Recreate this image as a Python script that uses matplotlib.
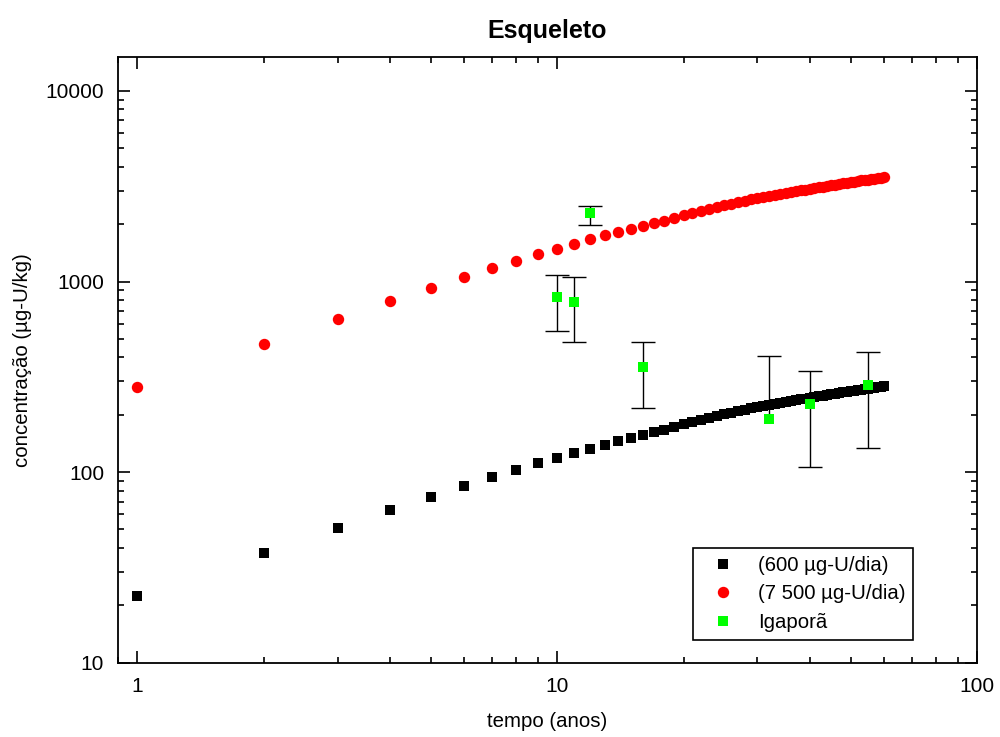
import numpy as np
import matplotlib
matplotlib.use("Agg")
import matplotlib.pyplot as plt
from matplotlib.ticker import FuncFormatter, NullFormatter, LogLocator

plt.rcParams['font.family'] = ['Liberation Sans', 'DejaVu Sans']

# tempo (anos) for the two model series
years = list(range(1, 61))

# 600 ug-U/dia (black squares)
black_vals = [22.4, 37.5, 50.7, 63, 74, 84.5, 94, 102.5, 111, 118.5,
              126, 133, 139.5, 146, 151, 157, 162, 167, 173, 179,
              184, 188, 193, 197, 201, 205, 209, 212, 216, 219,
              222, 225, 228, 231, 233, 236, 238, 241, 243, 245,
              248, 250, 252, 254, 256, 258, 260, 262, 264, 266,
              267, 269, 271, 273, 274, 276, 277, 279, 280, 282]

# 7 500 ug-U/dia (red circles)
red_vals = [280, 469, 634, 788, 925, 1056, 1175, 1281, 1388, 1481,
            1575, 1663, 1744, 1825, 1888, 1963, 2025, 2088, 2163, 2238,
            2300, 2350, 2413, 2463, 2513, 2563, 2613, 2650, 2700, 2738,
            2775, 2813, 2850, 2888, 2913, 2950, 2975, 3013, 3038, 3063,
            3100, 3125, 3150, 3175, 3200, 3225, 3250, 3275, 3300, 3325,
            3338, 3363, 3388, 3413, 3425, 3450, 3463, 3488, 3500, 3525]

# Igapora measurements with error bars
ig_x = [10, 11, 12, 16, 32, 40, 55]
ig_y = [834, 778, 2280, 356, 190, 228, 286]
ig_err_low = [281, 296, 298, 139, 0, 122, 152]
ig_err_high = [245, 279, 209, 126, 217, 113, 142]

fig = plt.figure(figsize=(10, 7.37), dpi=100)
ax = fig.add_axes([0.118, 0.1008, 0.859, 0.8214])

ax.plot(years, black_vals, 's', color='black', markersize=7.2, markeredgewidth=0,
        label='(600 µg-U/dia)', zorder=3)
ax.plot(years, red_vals, 'o', color='#ff0000', markersize=8.2, markeredgewidth=0,
        label='(7 500 µg-U/dia)', zorder=3)

_, caps, _ = ax.errorbar(ig_x, ig_y, yerr=[ig_err_low, ig_err_high], fmt='none',
                         ecolor='black', elinewidth=1, capsize=8.6, capthick=1,
                         zorder=4)
# no lower cap where the lower error is zero
gy = np.array(ig_y, dtype=float)
for cap in caps:
    cx = np.asarray(cap.get_xdata(), dtype=float)
    cy = np.asarray(cap.get_ydata(), dtype=float)
    keep = ~np.isclose(cy, gy)
    cap.set_data(cx[keep], cy[keep])

ax.plot(ig_x, ig_y, 's', color='#00ff00', markersize=7.2, markeredgewidth=0,
        label='Igaporã', zorder=5)

ax.set_xscale('log')
ax.set_yscale('log')
ax.set_xlim(0.9, 100)
ax.set_ylim(10, 15000)

fmt = FuncFormatter(lambda v, p: f'{v:g}')
ax.xaxis.set_major_locator(LogLocator(base=10))
ax.yaxis.set_major_locator(LogLocator(base=10))
ax.xaxis.set_major_formatter(fmt)
ax.yaxis.set_major_formatter(fmt)
ax.xaxis.set_minor_formatter(NullFormatter())
ax.yaxis.set_minor_formatter(NullFormatter())

ax.tick_params(which='both', direction='in', top=True, right=True, width=1.2,
               labelsize=15)
ax.tick_params(which='major', length=8.6)
ax.tick_params(which='minor', length=4.3)
ax.tick_params(axis='x', which='major', pad=10)
ax.tick_params(axis='y', which='major', pad=10)
for sp in ax.spines.values():
    sp.set_linewidth(1.3)

ax.set_title('Esqueleto', fontsize=18, fontweight='bold', pad=14)
ax.set_xlabel('tempo (anos)', fontsize=14.7)
ax.set_ylabel('concentração (µg-U/kg)', fontsize=14.7)
ax.xaxis.set_label_coords(0.5, -0.081)
ax.yaxis.set_label_coords(-0.1, 0.5)

leg = ax.legend(loc='upper left', bbox_to_anchor=(0.669, 0.19), borderaxespad=0,
                numpoints=1, fontsize=14.7, frameon=True, fancybox=False,
                edgecolor='black', framealpha=1, handlelength=2.14,
                handletextpad=0.65, labelspacing=0.47, borderpad=0.4)
leg.get_frame().set_linewidth(1.2)

fig.savefig('out.png', dpi=100)
